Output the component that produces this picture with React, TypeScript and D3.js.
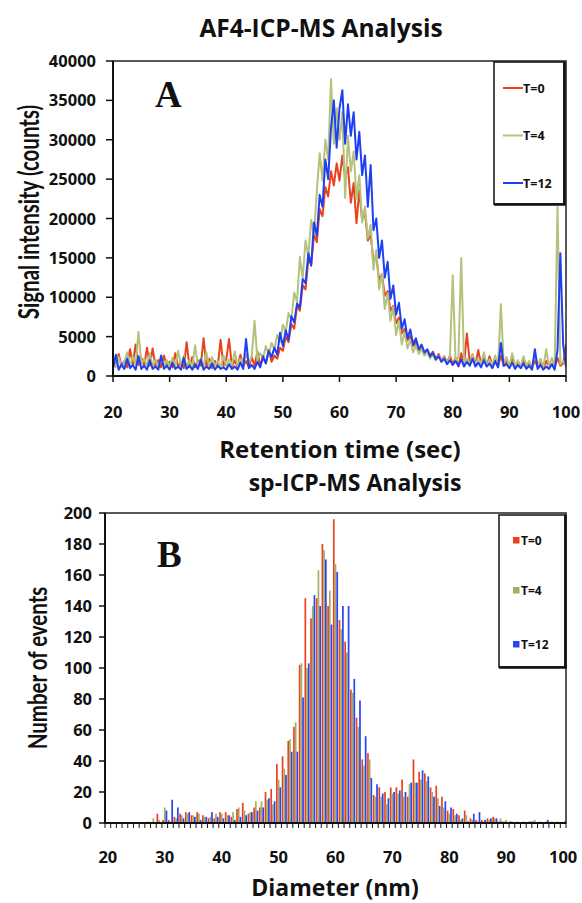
import React from 'react';
import * as d3 from 'd3';

// ---------- Panel A: AF4-ICP-MS (signal vs retention time) ----------
const timeStart = 20;
const timeStep = 0.5;
const afT0 = [2200,1200,2800,1300,1900,1100,3400,1500,4000,1400,2300,1200,3600,1300,3500,1200,2000,1100,2600,1300,
  1800,1100,2900,1200,1700,1000,4300,1200,2400,1100,2000,1300,4800,1200,2200,1000,1900,1200,4600,1300,
  2100,4700,1200,2000,1100,2700,1300,1900,1100,2400,1300,3100,1400,2300,1600,3300,1800,2600,2200,3600,
  3200,5000,4300,6600,6000,8900,8300,11500,11000,14800,14200,18000,17000,21200,20300,24000,22800,26000,24200,27000,
  24800,28000,25200,26500,22000,24500,19400,23600,19800,20800,17200,17900,14600,15200,12200,12900,10200,10800,8300,8900,
  6700,7400,5400,6000,4500,5100,3800,4300,3200,3800,2700,3300,2600,3100,2200,2800,1900,2500,1700,2600,
  1500,2300,1200,2900,1600,5400,1800,2700,1400,3300,1500,2300,1300,2500,1400,2000,1200,2600,1300,1900,
  1100,2400,1200,1800,1000,2100,1200,1700,1000,2000,1100,1600,1000,1900,1200,1500,1100,2300,1300,1600,4000];
const afT4 = [1800,1200,2400,1100,1700,3000,1300,2500,1400,5600,1500,2200,1300,2900,1200,2100,1100,2500,1300,2000,
  1200,2300,1100,3200,1300,2600,1200,2000,1100,3900,1300,2200,1200,3000,1100,2400,1300,1900,1100,2600,
  1200,2100,1400,3100,1300,2200,1500,2800,1700,2500,7000,2000,2900,2300,3800,2700,4200,3400,5200,4300,
  6500,5600,8000,7200,10600,9400,15100,12400,17200,15200,19800,18000,23500,28300,24800,30000,27500,37700,29500,34000,
  30000,33500,22600,30500,26000,28500,22500,25500,19500,21500,17500,19200,13500,16000,11000,13000,8500,10500,7000,8800,
  5200,7000,4000,5600,3500,4600,3000,3900,2800,3400,2600,3000,2200,2800,2000,2600,1800,2400,1700,2500,
  12800,1800,2400,15000,1700,2200,1500,2800,1400,2300,1500,3000,1300,2100,1400,2600,1300,9100,1500,2400,
  1200,2900,1300,2000,1200,2500,1300,1900,1100,3000,1300,2200,1100,3400,1200,2300,1100,21500,1500,1900,1400];
const afT12 = [900,2700,800,1500,900,2200,1000,1400,800,2500,900,1300,800,2000,900,1200,800,2600,900,1300,
  800,1700,900,1200,800,2300,900,1300,800,1500,900,2100,800,1200,900,1600,800,1300,900,1100,
  800,1500,900,1200,800,1700,900,4700,1000,1400,900,1800,1100,2500,1600,3200,2400,3600,2700,5500,
  3800,5800,4600,7600,6800,9200,8700,12300,11800,15600,14000,19500,17800,23000,21500,27500,25000,31500,35000,29000,
  34000,36300,29500,34500,30500,33500,27500,31000,25500,28000,21500,26800,18500,20000,15000,17200,12500,14500,9800,11500,
  7800,9300,6000,7200,4800,5900,4000,4800,3400,4000,3000,3400,2500,2900,2100,2500,1800,2200,1500,2000,
  1400,1900,1300,2100,1200,1800,1300,2200,1200,1700,1100,2000,1200,1600,1000,1900,1100,4200,1300,1500,
  1000,1700,900,1400,1000,1600,900,1300,800,3400,900,1400,800,1200,900,1500,800,3300,15600,4000,1200,900];
const afYTicks = [0, 5000, 10000, 15000, 20000, 25000, 30000, 35000, 40000];
const afXTicks = [20, 30, 40, 50, 60, 70, 80, 90, 100];

// ---------- Panel B: sp-ICP-MS (events vs diameter) ----------
const diameters = d3.range(20, 101);
const spT0 = [0,0,0,0,0,0,0,0,0,6,2,2,4,6,7,5,7,5,3,3,7,7,4,9,13,6,10,10,20,22,
  38,43,53,62,102,145,132,145,180,140,196,131,117,86,68,41,45,18,23,20,23,23,28,17,41,33,32,23,24,17,
  8,9,5,8,3,2,2,3,4,1,1,1,0,0,0,1,0,0,0,0,0];
const spT4 = [0,0,0,0,0,0,0,1,3,2,10,1,3,5,6,5,6,4,4,6,6,5,7,10,8,7,14,14,15,12,
  28,35,54,65,103,100,140,163,176,150,167,125,110,84,62,37,41,17,17,12,19,19,17,25,26,28,27,20,16,10,
  6,5,2,5,2,1,1,2,3,3,2,1,1,1,1,2,1,1,1,1,0];
const spT12 = [0,0,0,0,0,0,0,0,0,0,8,15,10,3,7,4,2,4,7,4,3,5,2,4,5,7,8,10,16,14,
  23,31,46,46,81,103,147,140,170,128,162,140,140,93,79,56,29,25,19,16,20,21,20,26,26,34,30,17,11,14,
  10,6,3,1,6,7,2,3,3,1,0,0,0,0,1,0,0,2,0,0,1];
const spYTicks = [0, 20, 40, 60, 80, 100, 120, 140, 160, 180, 200];
const spXLabels = [20, 30, 40, 50, 60, 70, 80, 90, 100];

const seriesNames = ['T=0', 'T=4', 'T=12'];
const lineColors = ['#e8431c', '#b4c27c', '#1f3ff5'];
const barColors = ['#e8431c', '#a3ad66', '#2846f2'];

const HSANS = '"Open Sans", Lato, sans-serif';
const VSANS = 'Lato, "Open Sans", sans-serif';
const SERIF = '"Liberation Serif", "DejaVu Serif", serif';

export default function App() {
  // Panel A geometry
  const ax0 = 113, ax1 = 566, ay0 = 61, ay1 = 376;
  const xA = d3.scaleLinear().domain([20, 100]).range([ax0, ax1]);
  const yA = d3.scaleLinear().domain([0, 40000]).range([ay1, ay0]);
  const lineGen = d3.line<number>()
    .x((_, i) => xA(timeStart + i * timeStep))
    .y((d) => yA(d));
  const afSeries = [afT0, afT4, afT12];

  // Panel B geometry
  const bx0 = 105, bx1 = 566, by0 = 513, by1 = 823;
  const xB = d3.scaleBand<string>().domain(diameters.map(String)).range([bx0, bx1]).paddingInner(0.1).paddingOuter(0.05);
  const xSub = d3.scaleBand<string>().domain(['0', '1', '2']).range([0, xB.bandwidth()]).padding(0);
  const yB = d3.scaleLinear().domain([0, 200]).range([by1, by0]);
  const catEdge = d3.scaleLinear().domain([0, diameters.length]).range([bx0, bx1]);
  const spSeries = [spT0, spT4, spT12];
  const legBY = [537, 587, 641];

  return (
    <svg width={582} height={903} style={{ position: 'absolute', left: 0, top: 0, background: '#fff' }}
      fontFamily={HSANS}>
      <defs>
        <clipPath id="clipA"><rect x={ax0} y={ay0} width={ax1 - ax0} height={ay1 - ay0} /></clipPath>
      </defs>
      <rect x={0} y={0} width={582} height={903} fill="#fff" />

      {/* ===== Panel A ===== */}
      <text x={321} y={37} textAnchor="middle" fontSize={24.5} fontWeight="bold" fill="#111">AF4-ICP-MS Analysis</text>
      <g clipPath="url(#clipA)">
        {afSeries.map((s, k) => (
          <path key={k} d={lineGen(s) || ''} fill="none" stroke={lineColors[k]} strokeWidth={2} strokeLinejoin="round" />
        ))}
      </g>
      <rect x={ax0} y={ay0} width={ax1 - ax0} height={ay1 - ay0} fill="none" stroke="#222" strokeWidth={1.5} />
      <line x1={ax0} x2={ax1} y1={ay1} y2={ay1} stroke="#111" strokeWidth={2} />
      <line x1={ax0} x2={ax0} y1={ay0} y2={ay1} stroke="#111" strokeWidth={2} />
      {afYTicks.map((t) => (
        <g key={t}>
          <line x1={ax0 - 7} x2={ax0} y1={yA(t)} y2={yA(t)} stroke="#111" strokeWidth={1.5} />
          <text x={96} y={yA(t) + 6} textAnchor="end" fontSize={16.5} fontWeight="bold" fill="#111">{t}</text>
        </g>
      ))}
      {afXTicks.map((t) => (
        <g key={t}>
          <line x1={xA(t)} x2={xA(t)} y1={ay1} y2={ay1 + 6} stroke="#111" strokeWidth={1.5} />
          <text x={xA(t)} y={418} textAnchor="middle" fontSize={16.5} fontWeight="bold" fill="#111">{t}</text>
        </g>
      ))}
      <text x={340} y={458} textAnchor="middle" fontSize={24} fontWeight="bold" fill="#111">Retention time (sec)</text>
      <text transform="translate(39,212) rotate(-90) scale(1,1.35)" textAnchor="middle" fontSize={20.5} fontWeight="bold" fill="#111" fontFamily={VSANS}>Signal intensity (counts)</text>
      <text x={155} y={107} fontSize={37} fontWeight="bold" fontFamily={SERIF} fill="#111">A</text>

      {/* Legend A */}
      <rect x={494} y={62} width={70} height={142} fill="#fff" stroke="#111" strokeWidth={1.5} />
      <line x1={564.5} x2={564.5} y1={62} y2={205} stroke="#111" strokeWidth={2.5} />
      <line x1={494} x2={565.5} y1={204.5} y2={204.5} stroke="#111" strokeWidth={2.5} />
      {seriesNames.map((n, k) => (
        <g key={n}>
          <line x1={503} x2={523} y1={88 + k * 47.5} y2={88 + k * 47.5} stroke={lineColors[k]} strokeWidth={2} />
          <text x={523} y={88 + k * 47.5 + 4.5} fontSize={12.5} fontWeight="bold" fill="#111">{n}</text>
        </g>
      ))}

      {/* ===== Panel B ===== */}
      <text x={355} y={491} textAnchor="middle" fontSize={23} fontWeight="bold" fill="#111">sp-ICP-MS Analysis</text>
      {diameters.map((d, i) => (
        <g key={d}>
          {spSeries.map((s, k) => (
            s[i] > 0 ? (
              <rect key={k} x={(xB(String(d)) || 0) + (xSub(String(k)) || 0)} y={yB(s[i])}
                width={xSub.bandwidth()} height={by1 - yB(s[i])} fill={barColors[k]} />
            ) : null
          ))}
        </g>
      ))}
      <rect x={bx0} y={by0} width={bx1 - bx0} height={by1 - by0} fill="none" stroke="#222" strokeWidth={1.5} />
      <line x1={bx0} x2={bx1} y1={by1} y2={by1} stroke="#111" strokeWidth={2} />
      <line x1={bx0} x2={bx0} y1={by0} y2={by1} stroke="#111" strokeWidth={2} />
      {spYTicks.map((t) => (
        <g key={t}>
          <line x1={bx0 - 6} x2={bx0} y1={yB(t)} y2={yB(t)} stroke="#111" strokeWidth={1.5} />
          <text x={92} y={yB(t) + 6} textAnchor="end" fontSize={16.5} fontWeight="bold" fill="#111">{t}</text>
        </g>
      ))}
      {d3.range(diameters.length + 1).map((i) => (
        <line key={i} x1={catEdge(i)} x2={catEdge(i)} y1={by1} y2={by1 + 5} stroke="#111" strokeWidth={1} />
      ))}
      {spXLabels.map((t) => (
        <text key={t} x={(xB(String(t)) || 0) + xB.bandwidth() / 2} y={863} textAnchor="middle" fontSize={16.5} fontWeight="bold" fill="#111">{t}</text>
      ))}
      <text x={335} y={896} textAnchor="middle" fontSize={23} fontWeight="bold" fill="#111">Diameter (nm)</text>
      <text transform="translate(47,668) rotate(-90) scale(1,1.3)" textAnchor="middle" fontSize={20.5} fontWeight="bold" fill="#111" fontFamily={VSANS}>Number of events</text>
      <text x={157} y={567} fontSize={37} fontWeight="bold" fontFamily={SERIF} fill="#111">B</text>

      {/* Legend B */}
      <rect x={499} y={515} width={66} height={152} fill="#fff" stroke="#111" strokeWidth={1.5} />
      <line x1={565.5} x2={565.5} y1={515} y2={668} stroke="#111" strokeWidth={2.5} />
      <line x1={499} x2={566.5} y1={667.5} y2={667.5} stroke="#111" strokeWidth={2.5} />
      {seriesNames.map((n, k) => (
        <g key={n}>
          <rect x={513} y={legBY[k]} width={6.5} height={6.5} fill={barColors[k]} />
          <text x={521} y={legBY[k] + 7.5} fontSize={12} fontWeight="bold" fill="#111">{n}</text>
        </g>
      ))}
    </svg>
  );
}
